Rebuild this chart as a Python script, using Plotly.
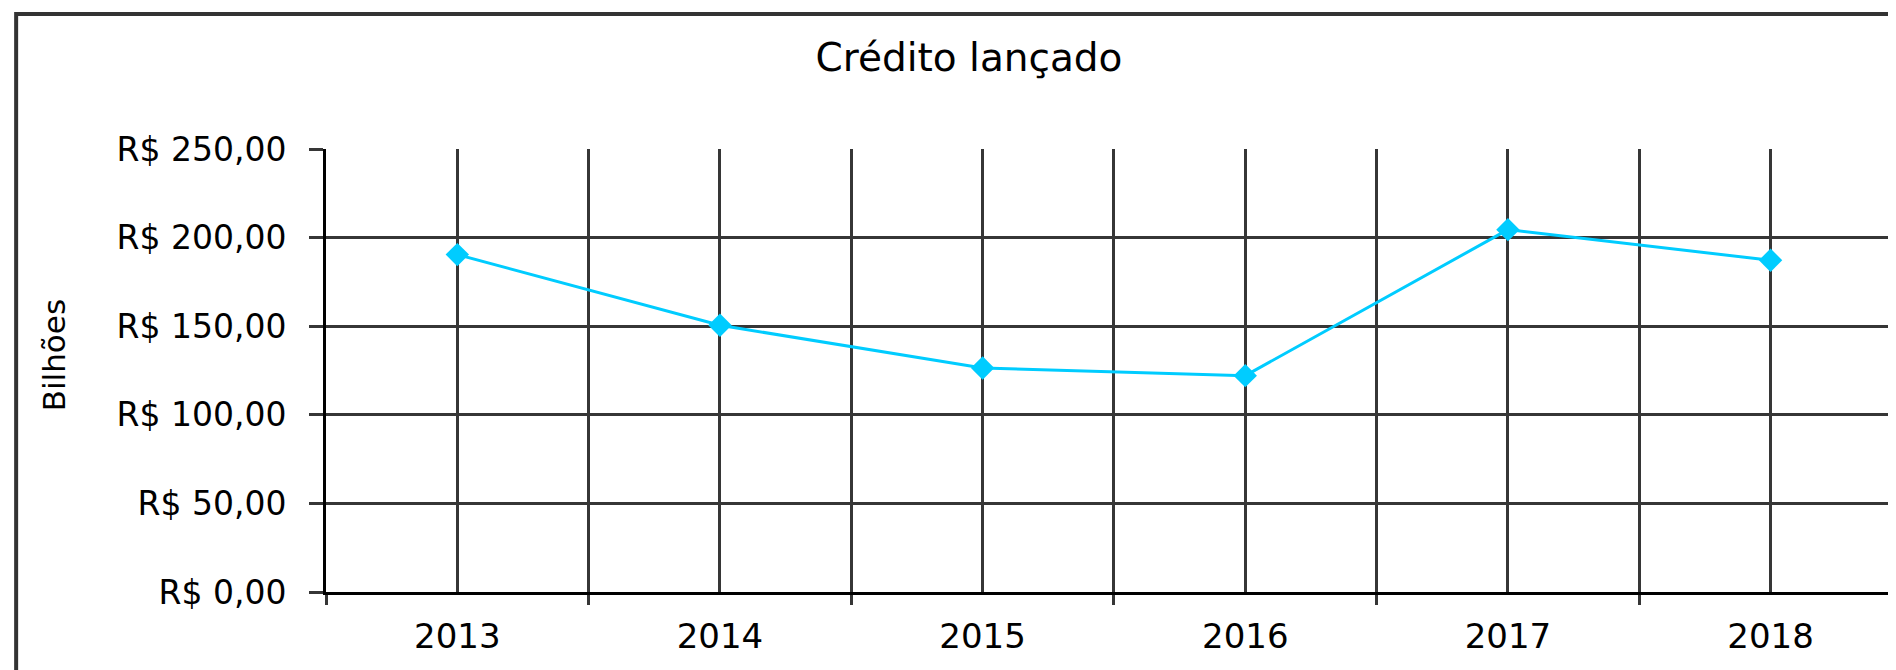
import plotly.graph_objects as go

# ---- data ----
title_text = "Crédito lançado"
y_title = "Bilhões"
years = [2013, 2014, 2015, 2016, 2017, 2018]
credito = [190.4, 150.5, 126.4, 122.1, 204.5, 187.2]
y_tick_vals = [0, 50, 100, 150, 200, 250]
y_tick_text = ["R$ 0,00", "R$ 50,00", "R$ 100,00", "R$ 150,00", "R$ 200,00", "R$ 250,00"]

# ---- layout constants (pixels, in figure coordinates; page body adds 8px offset) ----
OFF = 8
W, H = 1896, 670
ML = 326.3 - OFF
MT = 149 - OFF
MB = H - (591.7 - OFF)
MR = 0
PW, PH = W - ML - MR, H - MT - MB
CAT = 262.6  # pixels per category

def px_x(px):
    return (px - OFF - ML) / PW

def px_y(py):
    return (H - MB - (py - OFF)) / PH

FONT = "DejaVu Sans"
GRID = "#363636"
LINE_COL = "#00CCFF"

fig = go.Figure()
fig.add_trace(go.Scatter(
    x=years, y=credito, mode="lines+markers",
    line=dict(color=LINE_COL, width=3),
    marker=dict(symbol="diamond", size=18, color=LINE_COL),
    showlegend=False, cliponaxis=False,
))

fig.update_layout(
    width=W, height=H,
    margin=dict(l=ML, r=MR, t=MT, b=MB, pad=0),
    paper_bgcolor="white", plot_bgcolor="white",
    font=dict(family=FONT, color="#000000", size=34),
    title=dict(text=title_text, xref="container", yref="container",
               x=(969 - OFF) / W, y=1 - (57 - OFF) / H, xanchor="center", yanchor="middle",
               font=dict(family=FONT, size=39, color="#000000")),
    xaxis=dict(
        range=[2012.5, 2012.5 + PW / CAT],
        tickmode="array", tickvals=years, ticktext=[str(y) for y in years],
        showgrid=True, gridcolor=GRID, gridwidth=2.5,
        ticks="outside", ticklen=12, tickcolor="rgba(0,0,0,0)",
        minor=dict(tick0=2012.5, dtick=1, showgrid=True, gridcolor=GRID, gridwidth=2.5,
                   ticks="outside", ticklen=10, tickcolor=GRID, tickwidth=2.5),
        showline=True, linecolor="#000000", linewidth=3,
        zeroline=False, tickfont=dict(family=FONT, size=34, color="#000000"),
    ),
    yaxis=dict(
        range=[0, 250],
        tickmode="array", tickvals=y_tick_vals, ticktext=y_tick_text,
        showgrid=True, gridcolor=GRID, gridwidth=2.5,
        ticks="outside", ticklen=14, tickcolor=GRID, tickwidth=2.5,
        ticklabelstandoff=16,
        showline=True, linecolor="#000000", linewidth=3,
        zeroline=False, tickfont=dict(family=FONT, size=33, color="#000000"),
    ),
    annotations=[dict(
        text=y_title, textangle=-90, showarrow=False,
        xref="paper", yref="paper", x=px_x(54.5), y=px_y(355),
        xanchor="center", yanchor="middle",
        font=dict(family=FONT, size=31, color="#000000"),
    )],
    shapes=[dict(
        type="rect", xref="paper", yref="paper",
        x0=px_x(16.5), x1=px_x(1930), y0=px_y(14), y1=px_y(720),
        line=dict(color="#333333", width=4), fillcolor="rgba(0,0,0,0)", layer="below",
    )],
)

fig.write_html("out.html")
